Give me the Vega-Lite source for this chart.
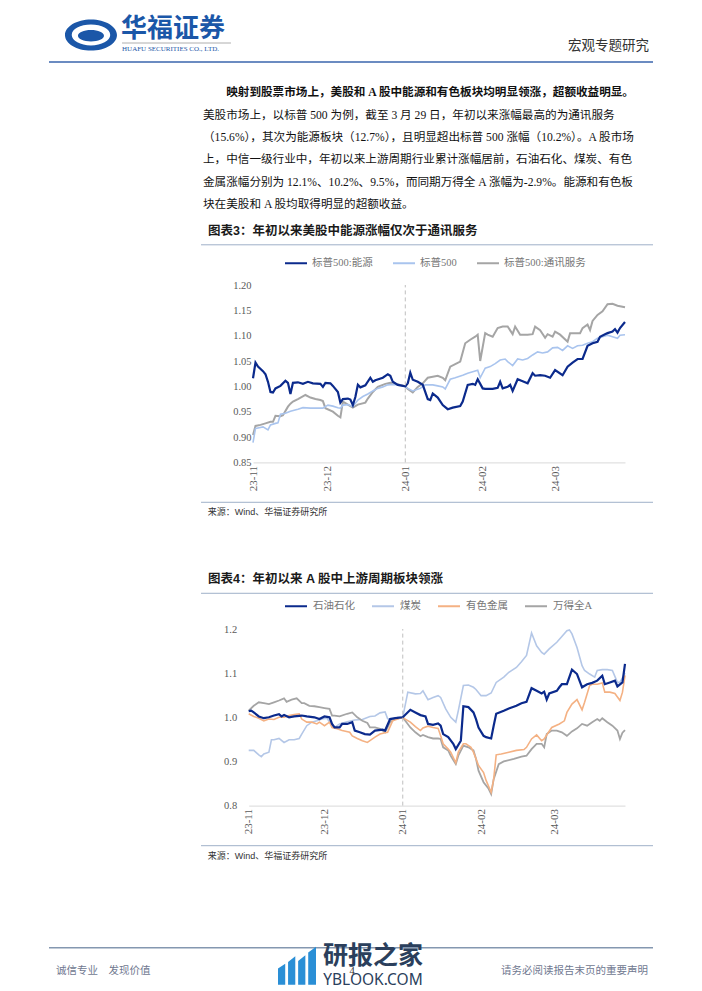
{
"$schema":"https://vega.github.io/schema/vega-lite/v6.json",
"background":"white",
"padding":{"left":48,"top":0,"right":50,"bottom":0},
"autosize":{"type":"pad"},
"spacing":0,
"bounds":"flush",
"resolve":{"scale":{"color":"independent","x":"independent","y":"independent"},"legend":{"color":"independent"},"axis":{"x":"independent","y":"independent"}},
"config":{"view":{"stroke":null},"axis":{"grid":false,"labelOverlap":false,"labelSeparation":0},"axisY":{"labelOverlap":false},"axisQuantitative":{"labelOverlap":false}},
"vconcat":[
{"width":604,"height":81.8,"layer":[
 {"data":{"values":[{}]},"mark":{"type":"point","shape":"M-1,0 A1,0.6 0 1,0 1,0 A1,0.6 0 1,0 -1,0 Z M-0.74,0 A0.74,0.4 0 1,1 0.74,0 A0.74,0.4 0 1,1 -0.74,0 Z M-0.5,0.03 A0.5,0.22 0 1,0 0.5,0.03 A0.5,0.22 0 1,0 -0.5,0.03 Z","size":2704,"filled":true,"color":"#1b57a8","opacity":1},"encoding":{"x":{"datum":0.0695,"type":"quantitative","scale":{"domain":[0,1],"nice":false,"zero":false},"axis":null},"y":{"datum":0.4279,"type":"quantitative","scale":{"domain":[0,1],"reverse":true,"nice":false,"zero":false},"axis":null}}},
 {"data":{"values":[{"text":"华福证券"}]},"mark":{"type":"text","align":"left","baseline":"middle","font":"Noto Sans CJK SC","fontSize":26,"fontWeight":"bold","color":"#1b57a8"},"encoding":{"x":{"datum":0.1192,"type":"quantitative"},"y":{"datum":0.3545,"type":"quantitative"},"text":{"field":"text"}}},
 {"data":{"values":[{}]},"mark":{"type":"rule","color":"#9a9a9a","strokeWidth":0.8},"encoding":{"x":{"datum":0.1209,"type":"quantitative"},"x2":{"datum":0.3013},"y":{"datum":0.5257,"type":"quantitative"}}},
 {"data":{"values":[{"text":"HUAFU SECURITIES CO., LTD."}]},"mark":{"type":"text","align":"left","baseline":"middle","font":"Liberation Serif","fontSize":7,"color":"#1b57a8"},"encoding":{"x":{"datum":0.1209,"type":"quantitative"},"y":{"datum":0.6051,"type":"quantitative"},"text":{"field":"text"}}},
 {"data":{"values":[{"text":"宏观专题研究"}]},"mark":{"type":"text","align":"right","baseline":"middle","font":"Liberation Serif, Noto Sans CJK SC","fontSize":13.5,"color":"#333333"},"encoding":{"x":{"datum":0.9934,"type":"quantitative"},"y":{"datum":0.5623,"type":"quantitative"},"text":{"field":"text"}}},
 {"data":{"values":[{}]},"mark":{"type":"rule","color":"#3a64ad","strokeWidth":1.5},"encoding":{"x":{"datum":0,"type":"quantitative"},"x2":{"datum":1},"y":{"datum":0.7579,"type":"quantitative"}}}
]},
{"width":604,"height":134.4,"layer":[
 {"data":{"values":[{"line":1,"text":"映射到股票市场上，美股和 A 股中能源和有色板块均明显领涨，超额收益明显。"}]},"mark":{"type":"text","align":"left","baseline":"middle","dx":23.2,"font":"Liberation Serif, Noto Sans CJK SC","fontSize":11.6,"fontWeight":"bold","color":"#111111"},"encoding":{"x":{"datum":0.255,"type":"quantitative","scale":{"domain":[0,1],"nice":false,"zero":false},"axis":null},"y":{"field":"line","type":"ordinal","scale":{"type":"point","padding":0.5,"domain":[1,2,3,4,5,6]},"axis":null},"text":{"field":"text"}}},
 {"data":{"values":[
  {"line":2,"text":"美股市场上，以标普 500 为例，截至 3 月 29 日，年初以来涨幅最高的为通讯服务"},
  {"line":3,"text":"（15.6%），其次为能源板块（12.7%），且明显超出标普 500 涨幅（10.2%）。A 股市场"},
  {"line":4,"text":"上，中信一级行业中，年初以来上游周期行业累计涨幅居前，石油石化、煤炭、有色"},
  {"line":5,"text":"金属涨幅分别为 12.1%、10.2%、9.5%，而同期万得全 A 涨幅为-2.9%。能源和有色板"},
  {"line":6,"text":"块在美股和 A 股均取得明显的超额收益。"}]},"mark":{"type":"text","align":"left","baseline":"middle","font":"Liberation Serif, Noto Sans CJK SC","fontSize":11.6,"color":"#111111"},"encoding":{"x":{"datum":0.255,"type":"quantitative"},"y":{"field":"line","type":"ordinal"},"text":{"field":"text"}}}
]},
{"width":604,"height":67.1,"layer":[
 {"data":{"values":[{"text":"图表3：年初以来美股中能源涨幅仅次于通讯服务"}]},"mark":{"type":"text","align":"left","baseline":"middle","font":"Liberation Sans, Noto Sans CJK SC","fontSize":12.5,"fontWeight":"bold","color":"#1a1a1a"},"encoding":{"x":{"datum":0.2632,"type":"quantitative","scale":{"domain":[0,1],"nice":false,"zero":false},"axis":null},"y":{"datum":0.2057,"type":"quantitative","scale":{"domain":[0,1],"reverse":true,"nice":false,"zero":false},"axis":null},"text":{"field":"text"}}},
 {"data":{"values":[{}]},"mark":{"type":"rule","color":"#9fb0c8","strokeWidth":1},"encoding":{"x":{"datum":0.2517,"type":"quantitative"},"x2":{"datum":1},"y":{"datum":0.4143,"type":"quantitative"}}}
]},
{"width":604,"height":177.4,"layer":[
 {"data":{"values":[{"t":"2023-11-01","v":0.904},{"t":"2023-11-02","v":0.922},{"t":"2023-11-04","v":0.924},{"t":"2023-11-06","v":0.927},{"t":"2023-11-08","v":0.930},{"t":"2023-11-09","v":0.930},{"t":"2023-11-10","v":0.942},{"t":"2023-11-12","v":0.941},{"t":"2023-11-13","v":0.943},{"t":"2023-11-15","v":0.960},{"t":"2023-11-16","v":0.966},{"t":"2023-11-17","v":0.970},{"t":"2023-11-19","v":0.975},{"t":"2023-11-22","v":0.983},{"t":"2023-11-24","v":0.978},{"t":"2023-11-26","v":0.975},{"t":"2023-11-28","v":0.973},{"t":"2023-11-29","v":0.971},{"t":"2023-11-30","v":0.957},{"t":"2023-12-03","v":0.950},{"t":"2023-12-05","v":0.942},{"t":"2023-12-06","v":0.939},{"t":"2023-12-07","v":0.970},{"t":"2023-12-09","v":0.964},{"t":"2023-12-11","v":0.958},{"t":"2023-12-13","v":0.964},{"t":"2023-12-16","v":0.968},{"t":"2023-12-17","v":0.976},{"t":"2023-12-19","v":0.989},{"t":"2023-12-21","v":0.999},{"t":"2023-12-24","v":1.005},{"t":"2023-12-26","v":1.007},{"t":"2023-12-28","v":1.005},{"t":"2023-12-30","v":1.003},{"t":"2024-01-01","v":1.000},{"t":"2024-01-02","v":0.995},{"t":"2024-01-04","v":0.988},{"t":"2024-01-06","v":0.999},{"t":"2024-01-08","v":1.006},{"t":"2024-01-10","v":1.017},{"t":"2024-01-12","v":1.019},{"t":"2024-01-14","v":1.021},{"t":"2024-01-16","v":1.017},{"t":"2024-01-17","v":1.012},{"t":"2024-01-19","v":1.039},{"t":"2024-01-21","v":1.044},{"t":"2024-01-23","v":1.049},{"t":"2024-01-25","v":1.085},{"t":"2024-01-27","v":1.092},{"t":"2024-01-29","v":1.098},{"t":"2024-01-30","v":1.102},{"t":"2024-01-31","v":1.050},{"t":"2024-02-02","v":1.105},{"t":"2024-02-03","v":1.102},{"t":"2024-02-05","v":1.098},{"t":"2024-02-07","v":1.115},{"t":"2024-02-09","v":1.118},{"t":"2024-02-11","v":1.118},{"t":"2024-02-13","v":1.103},{"t":"2024-02-14","v":1.118},{"t":"2024-02-16","v":1.102},{"t":"2024-02-19","v":1.102},{"t":"2024-02-21","v":1.103},{"t":"2024-02-22","v":1.118},{"t":"2024-02-24","v":1.111},{"t":"2024-02-26","v":1.096},{"t":"2024-02-27","v":1.103},{"t":"2024-02-29","v":1.098},{"t":"2024-03-01","v":1.108},{"t":"2024-03-03","v":1.102},{"t":"2024-03-06","v":1.088},{"t":"2024-03-07","v":1.105},{"t":"2024-03-09","v":1.105},{"t":"2024-03-11","v":1.105},{"t":"2024-03-12","v":1.115},{"t":"2024-03-14","v":1.122},{"t":"2024-03-15","v":1.111},{"t":"2024-03-16","v":1.129},{"t":"2024-03-18","v":1.141},{"t":"2024-03-20","v":1.148},{"t":"2024-03-22","v":1.162},{"t":"2024-03-24","v":1.163},{"t":"2024-03-26","v":1.159},{"t":"2024-03-29","v":1.156}]},
  "mark":{"type":"line","strokeWidth":2},
  "encoding":{
   "x":{"field":"t","type":"temporal","scale":{"type":"utc","domain":[{"year":2023,"month":11,"date":1,"utc":true},{"year":2024,"month":3,"date":29,"utc":true}],"range":[204,576],"nice":false},"axis":{"values":[{"year":2023,"month":11,"date":1,"utc":true},{"year":2023,"month":12,"date":1,"utc":true},{"year":2024,"month":1,"date":1,"utc":true},{"year":2024,"month":2,"date":1,"utc":true},{"year":2024,"month":3,"date":1,"utc":true}],"labelExpr":"utcFormat(datum.value, '%y-%m')","labelAngle":-90,"labelFont":"Liberation Serif","labelFontSize":11,"labelColor":"#595959","labelPadding":3,"ticks":false,"domainColor":"#d9d9d9","domainWidth":1,"title":null,"labelFlush":false,"labelOverlap":false}},
   "y":{"field":"v","type":"quantitative","scale":{"domain":[0.85,1.2],"nice":false,"zero":false},"axis":{"orient":"left","offset":-204,"values":[0.85,0.9,0.95,1,1.05,1.1,1.15,1.2],"tickCount":8,"format":".2f","domain":false,"ticks":false,"labelOverlap":false,"labelSeparation":0,"labelFont":"Liberation Serif","labelFontSize":10.5,"labelColor":"#595959","labelPadding":2,"title":null}},
   "color":{"datum":"标普500:通讯服务","type":"nominal","scale":{"domain":["标普500:能源","标普500","标普500:通讯服务"],"range":["#0b2a8c","#a9c4ee","#a5a5a5"]},"legend":{"orient":"none","legendX":235,"legendY":-34,"direction":"horizontal","title":null,"symbolType":"stroke","symbolSize":484,"symbolStrokeWidth":2,"labelFont":"Liberation Serif, Noto Sans CJK SC","labelFontSize":10.5,"labelColor":"#767676","labelOffset":4,"columnPadding":16,"padding":0}}}},
 {"data":{"values":[{"t":"2023-11-01","v":0.889},{"t":"2023-11-02","v":0.917},{"t":"2023-11-03","v":0.918},{"t":"2023-11-05","v":0.920},{"t":"2023-11-07","v":0.914},{"t":"2023-11-08","v":0.924},{"t":"2023-11-10","v":0.927},{"t":"2023-11-11","v":0.928},{"t":"2023-11-12","v":0.945},{"t":"2023-11-14","v":0.947},{"t":"2023-11-16","v":0.951},{"t":"2023-11-19","v":0.955},{"t":"2023-11-21","v":0.958},{"t":"2023-11-24","v":0.957},{"t":"2023-11-27","v":0.957},{"t":"2023-11-29","v":0.957},{"t":"2023-12-01","v":0.963},{"t":"2023-12-03","v":0.961},{"t":"2023-12-05","v":0.958},{"t":"2023-12-06","v":0.957},{"t":"2023-12-07","v":0.963},{"t":"2023-12-09","v":0.964},{"t":"2023-12-11","v":0.960},{"t":"2023-12-13","v":0.973},{"t":"2023-12-15","v":0.980},{"t":"2023-12-17","v":0.985},{"t":"2023-12-19","v":0.991},{"t":"2023-12-21","v":0.996},{"t":"2023-12-23","v":0.999},{"t":"2023-12-25","v":1.003},{"t":"2023-12-27","v":1.004},{"t":"2023-12-29","v":1.003},{"t":"2024-01-01","v":1.000},{"t":"2024-01-02","v":0.996},{"t":"2024-01-04","v":0.991},{"t":"2024-01-07","v":0.996},{"t":"2024-01-09","v":1.003},{"t":"2024-01-12","v":1.003},{"t":"2024-01-14","v":1.001},{"t":"2024-01-16","v":0.999},{"t":"2024-01-17","v":0.995},{"t":"2024-01-19","v":1.014},{"t":"2024-01-21","v":1.017},{"t":"2024-01-24","v":1.022},{"t":"2024-01-26","v":1.026},{"t":"2024-01-28","v":1.029},{"t":"2024-01-30","v":1.032},{"t":"2024-01-31","v":1.017},{"t":"2024-02-02","v":1.036},{"t":"2024-02-04","v":1.039},{"t":"2024-02-06","v":1.045},{"t":"2024-02-08","v":1.052},{"t":"2024-02-10","v":1.054},{"t":"2024-02-11","v":1.049},{"t":"2024-02-13","v":1.041},{"t":"2024-02-15","v":1.054},{"t":"2024-02-17","v":1.052},{"t":"2024-02-19","v":1.055},{"t":"2024-02-21","v":1.062},{"t":"2024-02-23","v":1.068},{"t":"2024-02-25","v":1.066},{"t":"2024-02-27","v":1.068},{"t":"2024-02-29","v":1.076},{"t":"2024-03-02","v":1.077},{"t":"2024-03-04","v":1.071},{"t":"2024-03-06","v":1.080},{"t":"2024-03-08","v":1.075},{"t":"2024-03-10","v":1.080},{"t":"2024-03-12","v":1.081},{"t":"2024-03-14","v":1.085},{"t":"2024-03-16","v":1.088},{"t":"2024-03-18","v":1.095},{"t":"2024-03-20","v":1.098},{"t":"2024-03-22","v":1.101},{"t":"2024-03-24","v":1.098},{"t":"2024-03-26","v":1.095},{"t":"2024-03-27","v":1.101},{"t":"2024-03-29","v":1.102}]},
  "mark":{"type":"line","strokeWidth":1.6},
  "encoding":{"x":{"field":"t","type":"temporal"},"y":{"field":"v","type":"quantitative"},"color":{"datum":"标普500","type":"nominal"}}},
 {"data":{"values":[{"t":"2023-11-01","v":1.016},{"t":"2023-11-02","v":1.047},{"t":"2023-11-03","v":1.039},{"t":"2023-11-05","v":1.030},{"t":"2023-11-06","v":1.024},{"t":"2023-11-07","v":1.009},{"t":"2023-11-08","v":0.989},{"t":"2023-11-09","v":0.988},{"t":"2023-11-10","v":0.996},{"t":"2023-11-12","v":1.001},{"t":"2023-11-14","v":1.011},{"t":"2023-11-15","v":1.007},{"t":"2023-11-16","v":0.985},{"t":"2023-11-17","v":1.007},{"t":"2023-11-19","v":1.008},{"t":"2023-11-21","v":1.005},{"t":"2023-11-23","v":1.009},{"t":"2023-11-25","v":1.006},{"t":"2023-11-28","v":1.005},{"t":"2023-11-29","v":0.999},{"t":"2023-11-30","v":1.007},{"t":"2023-12-02","v":1.006},{"t":"2023-12-03","v":1.001},{"t":"2023-12-05","v":0.989},{"t":"2023-12-06","v":0.968},{"t":"2023-12-07","v":0.975},{"t":"2023-12-09","v":0.976},{"t":"2023-12-10","v":0.974},{"t":"2023-12-11","v":0.963},{"t":"2023-12-12","v":0.979},{"t":"2023-12-13","v":1.003},{"t":"2023-12-14","v":0.998},{"t":"2023-12-16","v":1.002},{"t":"2023-12-18","v":1.017},{"t":"2023-12-19","v":1.009},{"t":"2023-12-20","v":1.012},{"t":"2023-12-23","v":1.017},{"t":"2023-12-25","v":1.024},{"t":"2023-12-26","v":1.021},{"t":"2023-12-27","v":1.009},{"t":"2023-12-29","v":1.003},{"t":"2024-01-01","v":1.000},{"t":"2024-01-02","v":1.006},{"t":"2024-01-03","v":1.027},{"t":"2024-01-04","v":1.013},{"t":"2024-01-06","v":1.009},{"t":"2024-01-08","v":1.003},{"t":"2024-01-10","v":0.975},{"t":"2024-01-11","v":0.973},{"t":"2024-01-12","v":0.986},{"t":"2024-01-14","v":0.978},{"t":"2024-01-16","v":0.963},{"t":"2024-01-18","v":0.955},{"t":"2024-01-20","v":0.958},{"t":"2024-01-23","v":0.961},{"t":"2024-01-24","v":0.970},{"t":"2024-01-26","v":1.003},{"t":"2024-01-28","v":1.005},{"t":"2024-01-29","v":1.003},{"t":"2024-01-30","v":1.014},{"t":"2024-02-01","v":0.996},{"t":"2024-02-02","v":0.995},{"t":"2024-02-05","v":0.995},{"t":"2024-02-07","v":0.997},{"t":"2024-02-08","v":1.009},{"t":"2024-02-09","v":0.996},{"t":"2024-02-11","v":0.999},{"t":"2024-02-12","v":1.003},{"t":"2024-02-13","v":0.991},{"t":"2024-02-15","v":1.014},{"t":"2024-02-17","v":1.010},{"t":"2024-02-19","v":1.006},{"t":"2024-02-21","v":1.026},{"t":"2024-02-22","v":1.021},{"t":"2024-02-24","v":1.022},{"t":"2024-02-26","v":1.021},{"t":"2024-02-28","v":1.017},{"t":"2024-03-01","v":1.032},{"t":"2024-03-04","v":1.022},{"t":"2024-03-06","v":1.039},{"t":"2024-03-08","v":1.047},{"t":"2024-03-10","v":1.054},{"t":"2024-03-12","v":1.054},{"t":"2024-03-14","v":1.080},{"t":"2024-03-16","v":1.085},{"t":"2024-03-18","v":1.088},{"t":"2024-03-19","v":1.098},{"t":"2024-03-21","v":1.103},{"t":"2024-03-22","v":1.105},{"t":"2024-03-24","v":1.108},{"t":"2024-03-25","v":1.113},{"t":"2024-03-26","v":1.106},{"t":"2024-03-27","v":1.115},{"t":"2024-03-29","v":1.127}]},
  "mark":{"type":"line","strokeWidth":2.2},
  "encoding":{"x":{"field":"t","type":"temporal"},"y":{"field":"v","type":"quantitative"},"color":{"datum":"标普500:能源","type":"nominal"}}},
 {"data":{"values":[{}]},"mark":{"type":"rule","strokeDash":[4,3],"color":"#bfbfbf","strokeWidth":1},"encoding":{"x":{"datum":{"year":2024,"month":1,"date":1,"utc":true},"type":"temporal"},"y":{"datum":0.85,"type":"quantitative"},"y2":{"datum":1.2}}}
]},
{"width":604,"height":166,"layer":[
 {"data":{"values":[{}]},"mark":{"type":"rule","color":"#9fb0c8","strokeWidth":1},"encoding":{"x":{"datum":0.2517,"type":"quantitative","scale":{"domain":[0,1],"nice":false,"zero":false},"axis":null},"x2":{"datum":1},"y":{"datum":0.2367,"type":"quantitative","scale":{"domain":[0,1],"reverse":true,"nice":false,"zero":false},"axis":null}}},
 {"data":{"values":[{"text":"来源：Wind、华福证券研究所"}]},"mark":{"type":"text","align":"left","baseline":"middle","font":"Liberation Sans, Noto Sans CJK SC","fontSize":9,"color":"#333333"},"encoding":{"x":{"datum":0.2627,"type":"quantitative"},"y":{"datum":0.297,"type":"quantitative"},"text":{"field":"text"}}},
 {"data":{"values":[{"text":"图表4：年初以来 A 股中上游周期板块领涨"}]},"mark":{"type":"text","align":"left","baseline":"middle","font":"Liberation Sans, Noto Sans CJK SC","fontSize":12.5,"fontWeight":"bold","color":"#1a1a1a"},"encoding":{"x":{"datum":0.2632,"type":"quantitative"},"y":{"datum":0.7006,"type":"quantitative"},"text":{"field":"text"}}},
 {"data":{"values":[{}]},"mark":{"type":"rule","color":"#9fb0c8","strokeWidth":1},"encoding":{"x":{"datum":0.2517,"type":"quantitative"},"x2":{"datum":1},"y":{"datum":0.7849,"type":"quantitative"}}}
]},
{"width":604,"height":176.6,"layer":[
 {"data":{"values":[{"t":"2023-11-01","v":0.925},{"t":"2023-11-03","v":0.925},{"t":"2023-11-05","v":0.915},{"t":"2023-11-06","v":0.911},{"t":"2023-11-07","v":0.917},{"t":"2023-11-09","v":0.921},{"t":"2023-11-10","v":0.949},{"t":"2023-11-11","v":0.949},{"t":"2023-11-13","v":0.952},{"t":"2023-11-15","v":0.943},{"t":"2023-11-17","v":0.949},{"t":"2023-11-19","v":0.949},{"t":"2023-11-21","v":0.952},{"t":"2023-11-22","v":0.962},{"t":"2023-11-24","v":0.981},{"t":"2023-11-26","v":0.989},{"t":"2023-11-28","v":0.992},{"t":"2023-11-30","v":0.996},{"t":"2023-12-02","v":0.998},{"t":"2023-12-04","v":0.981},{"t":"2023-12-05","v":0.977},{"t":"2023-12-07","v":0.985},{"t":"2023-12-10","v":0.990},{"t":"2023-12-13","v":0.994},{"t":"2023-12-16","v":0.995},{"t":"2023-12-19","v":1.002},{"t":"2023-12-21","v":1.003},{"t":"2023-12-23","v":1.010},{"t":"2023-12-25","v":1.012},{"t":"2023-12-26","v":0.997},{"t":"2023-12-28","v":0.993},{"t":"2023-12-30","v":1.000},{"t":"2024-01-01","v":1.000},{"t":"2024-01-03","v":1.057},{"t":"2024-01-06","v":1.053},{"t":"2024-01-08","v":1.054},{"t":"2024-01-09","v":1.060},{"t":"2024-01-11","v":1.040},{"t":"2024-01-13","v":1.045},{"t":"2024-01-15","v":1.049},{"t":"2024-01-16","v":1.045},{"t":"2024-01-18","v":1.019},{"t":"2024-01-20","v":1.000},{"t":"2024-01-22","v":0.989},{"t":"2024-01-23","v":1.015},{"t":"2024-01-25","v":1.072},{"t":"2024-01-27","v":1.073},{"t":"2024-01-29","v":1.068},{"t":"2024-01-30","v":1.063},{"t":"2024-02-01","v":1.049},{"t":"2024-02-03","v":1.049},{"t":"2024-02-05","v":1.055},{"t":"2024-02-07","v":1.079},{"t":"2024-02-10","v":1.091},{"t":"2024-02-12","v":1.102},{"t":"2024-02-15","v":1.113},{"t":"2024-02-17","v":1.126},{"t":"2024-02-19","v":1.140},{"t":"2024-02-21","v":1.191},{"t":"2024-02-23","v":1.162},{"t":"2024-02-25","v":1.147},{"t":"2024-02-26","v":1.143},{"t":"2024-02-28","v":1.155},{"t":"2024-03-02","v":1.170},{"t":"2024-03-04","v":1.183},{"t":"2024-03-06","v":1.196},{"t":"2024-03-07","v":1.198},{"t":"2024-03-08","v":1.189},{"t":"2024-03-10","v":1.158},{"t":"2024-03-12","v":1.117},{"t":"2024-03-13","v":1.106},{"t":"2024-03-15","v":1.098},{"t":"2024-03-17","v":1.091},{"t":"2024-03-18","v":1.106},{"t":"2024-03-20","v":1.108},{"t":"2024-03-22","v":1.108},{"t":"2024-03-24","v":1.106},{"t":"2024-03-26","v":1.079},{"t":"2024-03-27","v":1.079},{"t":"2024-03-29","v":1.100}]},
  "mark":{"type":"line","strokeWidth":1.6},
  "encoding":{
   "x":{"field":"t","type":"temporal","scale":{"type":"utc","domain":[{"year":2023,"month":11,"date":1,"utc":true},{"year":2024,"month":3,"date":29,"utc":true}],"range":[199.7,576],"nice":false},"axis":{"values":[{"year":2023,"month":11,"date":1,"utc":true},{"year":2023,"month":12,"date":1,"utc":true},{"year":2024,"month":1,"date":1,"utc":true},{"year":2024,"month":2,"date":1,"utc":true},{"year":2024,"month":3,"date":1,"utc":true}],"labelExpr":"utcFormat(datum.value, '%y-%m')","labelAngle":-90,"labelFont":"Liberation Serif","labelFontSize":11,"labelColor":"#595959","labelPadding":3,"ticks":false,"domainColor":"#d9d9d9","domainWidth":1,"title":null,"labelFlush":false,"labelOverlap":false}},
   "y":{"field":"v","type":"quantitative","scale":{"domain":[0.8,1.2],"nice":false,"zero":false},"axis":{"orient":"left","offset":-199.7,"values":[0.8,0.9,1,1.1,1.2],"format":".1f","domain":false,"ticks":false,"labelOverlap":false,"labelFont":"Liberation Serif","labelFontSize":10.5,"labelColor":"#595959","labelPadding":12,"title":null}},
   "color":{"datum":"煤炭","type":"nominal","scale":{"domain":["石油石化","煤炭","有色金属","万得全A"],"range":["#0b2a8c","#b4c7e7","#f4b183","#a5a5a5"]},"legend":{"orient":"none","legendX":235,"legendY":-35,"direction":"horizontal","title":null,"symbolType":"stroke","symbolSize":484,"symbolStrokeWidth":2,"labelFont":"Liberation Serif, Noto Sans CJK SC","labelFontSize":10.5,"labelColor":"#767676","labelOffset":5,"columnPadding":13,"padding":0}}}},
 {"data":{"values":[{"t":"2023-11-01","v":1.015},{"t":"2023-11-03","v":1.026},{"t":"2023-11-05","v":1.034},{"t":"2023-11-07","v":1.032},{"t":"2023-11-09","v":1.030},{"t":"2023-11-11","v":1.034},{"t":"2023-11-13","v":1.038},{"t":"2023-11-15","v":1.043},{"t":"2023-11-16","v":1.035},{"t":"2023-11-18","v":1.040},{"t":"2023-11-20","v":1.043},{"t":"2023-11-22","v":1.032},{"t":"2023-11-23","v":1.032},{"t":"2023-11-25","v":1.026},{"t":"2023-11-27","v":1.025},{"t":"2023-11-29","v":1.023},{"t":"2023-12-01","v":1.021},{"t":"2023-12-03","v":1.019},{"t":"2023-12-04","v":1.004},{"t":"2023-12-05","v":1.004},{"t":"2023-12-07","v":1.002},{"t":"2023-12-10","v":1.008},{"t":"2023-12-12","v":1.011},{"t":"2023-12-14","v":1.000},{"t":"2023-12-16","v":0.992},{"t":"2023-12-18","v":0.987},{"t":"2023-12-19","v":0.977},{"t":"2023-12-21","v":0.977},{"t":"2023-12-23","v":0.974},{"t":"2023-12-25","v":0.966},{"t":"2023-12-27","v":0.989},{"t":"2023-12-29","v":0.996},{"t":"2024-01-01","v":1.000},{"t":"2024-01-02","v":0.992},{"t":"2024-01-04","v":0.977},{"t":"2024-01-06","v":0.966},{"t":"2024-01-08","v":0.957},{"t":"2024-01-09","v":0.960},{"t":"2024-01-11","v":0.955},{"t":"2024-01-13","v":0.952},{"t":"2024-01-15","v":0.952},{"t":"2024-01-16","v":0.951},{"t":"2024-01-17","v":0.932},{"t":"2024-01-19","v":0.925},{"t":"2024-01-20","v":0.913},{"t":"2024-01-22","v":0.894},{"t":"2024-01-23","v":0.913},{"t":"2024-01-25","v":0.936},{"t":"2024-01-27","v":0.932},{"t":"2024-01-29","v":0.925},{"t":"2024-01-30","v":0.906},{"t":"2024-01-31","v":0.879},{"t":"2024-02-02","v":0.853},{"t":"2024-02-04","v":0.838},{"t":"2024-02-05","v":0.826},{"t":"2024-02-06","v":0.860},{"t":"2024-02-08","v":0.894},{"t":"2024-02-10","v":0.900},{"t":"2024-02-14","v":0.906},{"t":"2024-02-17","v":0.911},{"t":"2024-02-19","v":0.913},{"t":"2024-02-21","v":0.928},{"t":"2024-02-23","v":0.940},{"t":"2024-02-25","v":0.940},{"t":"2024-02-26","v":0.932},{"t":"2024-02-27","v":0.962},{"t":"2024-02-29","v":0.970},{"t":"2024-03-02","v":0.970},{"t":"2024-03-04","v":0.966},{"t":"2024-03-06","v":0.958},{"t":"2024-03-08","v":0.968},{"t":"2024-03-10","v":0.975},{"t":"2024-03-12","v":0.985},{"t":"2024-03-14","v":0.981},{"t":"2024-03-16","v":0.989},{"t":"2024-03-18","v":0.996},{"t":"2024-03-19","v":0.992},{"t":"2024-03-20","v":0.998},{"t":"2024-03-22","v":0.989},{"t":"2024-03-24","v":0.981},{"t":"2024-03-26","v":0.970},{"t":"2024-03-27","v":0.951},{"t":"2024-03-28","v":0.965},{"t":"2024-03-29","v":0.971}]},
  "mark":{"type":"line","strokeWidth":1.8},
  "encoding":{"x":{"field":"t","type":"temporal"},"y":{"field":"v","type":"quantitative"},"color":{"datum":"万得全A","type":"nominal"}}},
 {"data":{"values":[{"t":"2023-11-01","v":1.008},{"t":"2023-11-03","v":1.002},{"t":"2023-11-05","v":0.998},{"t":"2023-11-07","v":0.992},{"t":"2023-11-09","v":0.996},{"t":"2023-11-11","v":0.995},{"t":"2023-11-13","v":1.000},{"t":"2023-11-15","v":1.000},{"t":"2023-11-17","v":1.004},{"t":"2023-11-19","v":1.006},{"t":"2023-11-21","v":1.008},{"t":"2023-11-22","v":0.996},{"t":"2023-11-24","v":0.989},{"t":"2023-11-26","v":0.989},{"t":"2023-11-28","v":0.985},{"t":"2023-11-29","v":0.989},{"t":"2023-12-01","v":0.981},{"t":"2023-12-03","v":0.989},{"t":"2023-12-04","v":0.977},{"t":"2023-12-06","v":0.974},{"t":"2023-12-08","v":0.970},{"t":"2023-12-11","v":0.966},{"t":"2023-12-12","v":0.958},{"t":"2023-12-14","v":0.952},{"t":"2023-12-16","v":0.947},{"t":"2023-12-18","v":0.943},{"t":"2023-12-19","v":0.947},{"t":"2023-12-21","v":0.955},{"t":"2023-12-23","v":0.962},{"t":"2023-12-25","v":0.965},{"t":"2023-12-26","v":0.966},{"t":"2023-12-28","v":0.992},{"t":"2023-12-30","v":0.996},{"t":"2024-01-01","v":1.000},{"t":"2024-01-02","v":0.996},{"t":"2024-01-04","v":0.989},{"t":"2024-01-06","v":0.979},{"t":"2024-01-08","v":0.970},{"t":"2024-01-09","v":0.976},{"t":"2024-01-11","v":0.980},{"t":"2024-01-13","v":0.977},{"t":"2024-01-15","v":0.975},{"t":"2024-01-16","v":0.958},{"t":"2024-01-17","v":0.940},{"t":"2024-01-19","v":0.928},{"t":"2024-01-20","v":0.921},{"t":"2024-01-22","v":0.897},{"t":"2024-01-23","v":0.921},{"t":"2024-01-25","v":0.940},{"t":"2024-01-26","v":0.940},{"t":"2024-01-28","v":0.932},{"t":"2024-01-29","v":0.921},{"t":"2024-01-31","v":0.891},{"t":"2024-02-02","v":0.875},{"t":"2024-02-03","v":0.857},{"t":"2024-02-05","v":0.830},{"t":"2024-02-06","v":0.860},{"t":"2024-02-07","v":0.915},{"t":"2024-02-09","v":0.917},{"t":"2024-02-12","v":0.921},{"t":"2024-02-15","v":0.925},{"t":"2024-02-18","v":0.927},{"t":"2024-02-19","v":0.932},{"t":"2024-02-21","v":0.951},{"t":"2024-02-23","v":0.960},{"t":"2024-02-25","v":0.947},{"t":"2024-02-26","v":0.951},{"t":"2024-02-27","v":0.960},{"t":"2024-02-29","v":0.977},{"t":"2024-03-03","v":0.985},{"t":"2024-03-05","v":0.992},{"t":"2024-03-06","v":1.011},{"t":"2024-03-08","v":1.030},{"t":"2024-03-10","v":1.040},{"t":"2024-03-12","v":1.017},{"t":"2024-03-13","v":1.034},{"t":"2024-03-15","v":1.072},{"t":"2024-03-16","v":1.075},{"t":"2024-03-18","v":1.075},{"t":"2024-03-20","v":1.078},{"t":"2024-03-21","v":1.057},{"t":"2024-03-23","v":1.057},{"t":"2024-03-25","v":1.054},{"t":"2024-03-27","v":1.038},{"t":"2024-03-28","v":1.057},{"t":"2024-03-29","v":1.095}]},
  "mark":{"type":"line","strokeWidth":1.6},
  "encoding":{"x":{"field":"t","type":"temporal"},"y":{"field":"v","type":"quantitative"},"color":{"datum":"有色金属","type":"nominal"}}},
 {"data":{"values":[{"t":"2023-11-01","v":1.014},{"t":"2023-11-02","v":1.015},{"t":"2023-11-03","v":1.011},{"t":"2023-11-05","v":1.002},{"t":"2023-11-07","v":0.998},{"t":"2023-11-09","v":1.000},{"t":"2023-11-11","v":1.004},{"t":"2023-11-13","v":1.007},{"t":"2023-11-14","v":1.002},{"t":"2023-11-15","v":1.005},{"t":"2023-11-17","v":1.000},{"t":"2023-11-19","v":1.002},{"t":"2023-11-22","v":1.004},{"t":"2023-11-24","v":1.002},{"t":"2023-11-27","v":1.000},{"t":"2023-11-29","v":0.996},{"t":"2023-12-01","v":1.002},{"t":"2023-12-03","v":1.000},{"t":"2023-12-04","v":0.985},{"t":"2023-12-05","v":0.977},{"t":"2023-12-07","v":0.977},{"t":"2023-12-08","v":0.985},{"t":"2023-12-10","v":0.985},{"t":"2023-12-12","v":0.989},{"t":"2023-12-13","v":0.970},{"t":"2023-12-15","v":0.966},{"t":"2023-12-17","v":0.962},{"t":"2023-12-19","v":0.961},{"t":"2023-12-21","v":0.970},{"t":"2023-12-24","v":0.972},{"t":"2023-12-25","v":0.970},{"t":"2023-12-27","v":0.996},{"t":"2023-12-29","v":0.998},{"t":"2024-01-01","v":1.000},{"t":"2024-01-04","v":1.017},{"t":"2024-01-06","v":1.011},{"t":"2024-01-08","v":1.005},{"t":"2024-01-10","v":1.002},{"t":"2024-01-11","v":0.985},{"t":"2024-01-13","v":0.983},{"t":"2024-01-15","v":0.986},{"t":"2024-01-16","v":0.981},{"t":"2024-01-17","v":0.962},{"t":"2024-01-19","v":0.955},{"t":"2024-01-21","v":0.940},{"t":"2024-01-22","v":0.928},{"t":"2024-01-24","v":0.947},{"t":"2024-01-25","v":1.025},{"t":"2024-01-27","v":1.023},{"t":"2024-01-29","v":1.011},{"t":"2024-01-30","v":0.996},{"t":"2024-01-31","v":0.977},{"t":"2024-02-02","v":0.958},{"t":"2024-02-03","v":0.955},{"t":"2024-02-05","v":0.952},{"t":"2024-02-06","v":0.981},{"t":"2024-02-07","v":1.008},{"t":"2024-02-10","v":1.015},{"t":"2024-02-12","v":1.020},{"t":"2024-02-15","v":1.026},{"t":"2024-02-17","v":1.032},{"t":"2024-02-19","v":1.035},{"t":"2024-02-21","v":1.066},{"t":"2024-02-23","v":1.060},{"t":"2024-02-25","v":1.054},{"t":"2024-02-26","v":1.058},{"t":"2024-02-27","v":1.040},{"t":"2024-02-28","v":1.054},{"t":"2024-03-02","v":1.060},{"t":"2024-03-03","v":1.068},{"t":"2024-03-04","v":1.075},{"t":"2024-03-06","v":1.075},{"t":"2024-03-08","v":1.108},{"t":"2024-03-10","v":1.098},{"t":"2024-03-12","v":1.068},{"t":"2024-03-14","v":1.075},{"t":"2024-03-16","v":1.078},{"t":"2024-03-18","v":1.083},{"t":"2024-03-20","v":1.094},{"t":"2024-03-21","v":1.075},{"t":"2024-03-23","v":1.079},{"t":"2024-03-25","v":1.083},{"t":"2024-03-26","v":1.070},{"t":"2024-03-28","v":1.079},{"t":"2024-03-29","v":1.121}]},
  "mark":{"type":"line","strokeWidth":2.2},
  "encoding":{"x":{"field":"t","type":"temporal"},"y":{"field":"v","type":"quantitative"},"color":{"datum":"石油石化","type":"nominal"}}},
 {"data":{"values":[{}]},"mark":{"type":"rule","strokeDash":[4,3],"color":"#bfbfbf","strokeWidth":1},"encoding":{"x":{"datum":{"year":2024,"month":1,"date":1,"utc":true},"type":"temporal"},"y":{"datum":0.8,"type":"quantitative"},"y2":{"datum":1.2}}}
]},
{"width":604,"height":187.7,"layer":[
 {"data":{"values":[{}]},"mark":{"type":"rule","color":"#9fb0c8","strokeWidth":1},"encoding":{"x":{"datum":0.2517,"type":"quantitative","scale":{"domain":[0,1],"nice":false,"zero":false},"axis":null},"x2":{"datum":1},"y":{"datum":0.2115,"type":"quantitative","scale":{"domain":[0,1],"reverse":true,"nice":false,"zero":false},"axis":null}}},
 {"data":{"values":[{"text":"来源：Wind、华福证券研究所"}]},"mark":{"type":"text","align":"left","baseline":"middle","font":"Liberation Sans, Noto Sans CJK SC","fontSize":9,"color":"#333333"},"encoding":{"x":{"datum":0.2627,"type":"quantitative"},"y":{"datum":0.2648,"type":"quantitative"},"text":{"field":"text"}}},
 {"data":{"values":[{}]},"mark":{"type":"rule","color":"#8497b0","strokeWidth":1.5},"encoding":{"x":{"datum":0,"type":"quantitative"},"x2":{"datum":1},"y":{"datum":0.7549,"type":"quantitative"}}},
 {"data":{"values":[{"text":"诚信专业　发现价值"}]},"mark":{"type":"text","align":"left","baseline":"middle","font":"Liberation Serif, Noto Sans CJK SC","fontSize":10.5,"color":"#707890"},"encoding":{"x":{"datum":0.0116,"type":"quantitative"},"y":{"datum":0.8775,"type":"quantitative"},"text":{"field":"text"}}},
 {"data":{"values":[{"text":"请务必阅读报告末页的重要声明"}]},"mark":{"type":"text","align":"right","baseline":"middle","font":"Liberation Serif, Noto Sans CJK SC","fontSize":10.5,"color":"#707890"},"encoding":{"x":{"datum":0.9917,"type":"quantitative"},"y":{"datum":0.8775,"type":"quantitative"},"text":{"field":"text"}}},
 {"data":{"values":[{"text":"4"}]},"mark":{"type":"text","align":"center","baseline":"middle","font":"Liberation Serif","fontSize":10.5,"color":"#333333"},"encoding":{"x":{"datum":0.5017,"type":"quantitative"},"y":{"datum":0.8775,"type":"quantitative"},"text":{"field":"text"}}},
 {"data":{"values":[{}]},"mark":{"type":"point","shape":"M-1,1 L-1,0.15 L-0.62,-0.1 L-0.62,1 Z M-0.47,1 L-0.47,-0.2 L-0.09,-0.5 L-0.09,1 Z M0.06,1 L0.06,-0.25 L0.44,-0.55 L0.44,1 Z M0.59,1 L0.59,-0.7 L1,-1 L1,1 Z","size":1444,"filled":true,"color":"#2a8fd6","opacity":1},"encoding":{"x":{"datum":0.4106,"type":"quantitative"},"y":{"datum":0.8508,"type":"quantitative"}}},
 {"data":{"values":[{"text":"研报之家"}]},"mark":{"type":"text","align":"center","baseline":"middle","font":"Noto Sans CJK SC","fontSize":25,"fontWeight":"bold","color":"#2b3f5c"},"encoding":{"x":{"datum":0.5364,"type":"quantitative"},"y":{"datum":0.7976,"type":"quantitative"},"text":{"field":"text"}}},
 {"data":{"values":[{"text":"YBLOOK.COM"}]},"mark":{"type":"text","align":"center","baseline":"middle","font":"Noto Sans","fontSize":15.5,"color":"#2b3f5c"},"encoding":{"x":{"datum":0.5364,"type":"quantitative"},"y":{"datum":0.9254,"type":"quantitative"},"text":{"field":"text"}}}
]}
]
}
